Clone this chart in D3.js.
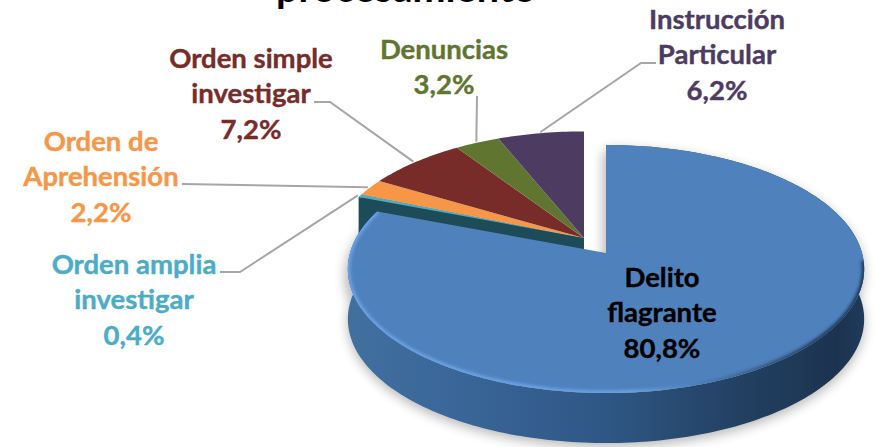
<!DOCTYPE html>
<html>
<head>
<meta charset="utf-8">
<script src="https://cdn.jsdelivr.net/npm/d3@7"></script>
<style>
html, body { margin: 0; padding: 0; background: #fff; overflow: hidden; }
text { font-family: Lato, "Open Sans", sans-serif; font-weight: 700; }
</style>
</head>
<body>
<svg id="chart" width="879" height="447"></svg>
<script>
// chart data
var categories = ["Delito flagrante", "Orden amplia investigar", "Orden de Aprehensión", "Orden simple investigar", "Denuncias", "Instrucción Particular"];
var shares = [80.8, 0.4, 2.2, 7.2, 3.2, 6.2];
var shareLabels = ["80,8%", "0,4%", "2,2%", "7,2%", "3,2%", "6,2%"];
var labelLines = [["Delito", "flagrante"], ["Orden amplia", "investigar"], ["Orden de", "Aprehensión"], ["Orden simple", "investigar"], ["Denuncias"], ["Instrucción", "Particular"]];
var titleText = "procesamiento";

// styles and layout
var sliceColors = ["#4f81bd", "#4bacc6", "#f79646", "#772c2a", "#5f7530", "#4d3b62"];
var labelColors = ["#000000", "#4bacc6", "#f79646", "#772c2a", "#5f7530", "#4d3b62"];
var labelX = [662, 134, 101, 251, 444, 717];
var labelY = [277, 264, 141, 58, 49, 19];
// where each leader line leaves its label (null = no leader)
var leaderElbows = [null, [[240, 272], [220, 272]], [[182, 184]], [[330, 102], [314, 102]], [[477, 96]], [[641, 63], [656, 63]]];

var svg = d3.select("#chart");
var defs = svg.append("defs");

// perspective: circle in the table plane -> screen
var R = 256, S = 122, k = 0.129, depth = 50;
var frontApex = { x: 606, y: 253, scale: 1 }, backApex = { x: 584, y: 238, scale: 0.985 };

function project(apex, angle, r, drop) {
  var u = Math.sin(angle) * r * apex.scale, v = -Math.cos(angle) * r * apex.scale;
  var w = 1 - k * v;
  return [apex.x + R * u / w, apex.y + S * v / w + (drop || 0)];
}
function rim(apex, a0, a1, drop) {
  var n = Math.max(2, Math.ceil((a1 - a0) / 0.02));
  return d3.range(n + 1).map(function(i) {
    return project(apex, a0 + (a1 - a0) * i / n, 1, drop);
  });
}
var line = d3.line();

var pie = d3.pie().sort(null);
var slices = pie(shares);

function wedge(apex, s) {
  return line([[apex.x, apex.y]].concat(rim(apex, s.startAngle, s.endAngle))) + "Z";
}

// filters + gradients
defs.append("filter").attr("id", "soft").attr("x", "-20%").attr("y", "-20%").attr("width", "140%").attr("height", "140%")
  .append("feGaussianBlur").attr("stdDeviation", 6);
defs.append("filter").attr("id", "softRim").attr("x", "-5%").attr("y", "-5%").attr("width", "110%").attr("height", "110%")
  .append("feGaussianBlur").attr("stdDeviation", 1.6);

var wallGrad = defs.append("linearGradient").attr("id", "wallGrad")
  .attr("gradientUnits", "userSpaceOnUse").attr("x1", 349).attr("x2", 863).attr("y1", 0).attr("y2", 0);
[[0, "#41709f"], [0.2, "#3a6699"], [0.5, "#2f5785"], [0.75, "#234163"], [0.95, "#1c3350"], [1, "#1f3a5a"]].forEach(function(d) {
  wallGrad.append("stop").attr("offset", d[0]).attr("stop-color", d[1]);
});
var rimGrad = defs.append("linearGradient").attr("id", "rimGrad")
  .attr("gradientUnits", "userSpaceOnUse").attr("x1", 349).attr("x2", 863).attr("y1", 0).attr("y2", 0);
[[0, "#6ba3e6"], [0.55, "#6ba3e6"], [0.75, "#3f6a9c"], [0.92, "#1f3a5c"], [1, "#1f3a5c"]].forEach(function(d) {
  rimGrad.append("stop").attr("offset", d[0]).attr("stop-color", d[1]);
});
defs.append("clipPath").attr("id", "topClip").append("path").attr("d", wedge(frontApex, slices[0]));

// blue slice wall outline (ribbon top rim -> bottom rim)
var blue = slices[0];
var ribbon = line(rim(frontApex, blue.startAngle, blue.endAngle).concat(rim(frontApex, blue.startAngle, blue.endAngle, depth).reverse())) + "Z";

// soft shadow
var shadow = svg.append("g").attr("filter", "url(#soft)").attr("fill", "#000").attr("opacity", 0.28);
shadow.append("path").attr("d", ribbon).attr("transform", "translate(0,4)");
shadow.append("path").attr("d", wedge(frontApex, blue)).attr("transform", "translate(-3,8)");

// dark cut face of the teal slice, mostly hidden by the blue one
var teal = slices[1];
var tealEdge = project(backApex, teal.endAngle, 1);
svg.append("path")
  .attr("fill", "#1d4c58")
  .attr("d", line([[backApex.x, backApex.y], tealEdge, [tealEdge[0], tealEdge[1] + depth], [backApex.x, backApex.y + depth]]) + "Z");
var tealStart = project(backApex, teal.startAngle, 1);
svg.append("path")
  .attr("fill", "#1d4c58")
  .attr("d", line([[backApex.x, backApex.y], tealStart, [tealStart[0], tealStart[1] + depth], [backApex.x, backApex.y + depth]]) + "Z");

// back slices
svg.append("g").selectAll("path")
  .data(slices.slice(1))
  .enter().append("path")
  .attr("fill", function(d) { return sliceColors[d.index]; })
  .attr("d", function(d) { return wedge(backApex, d); });

// blue slice
svg.append("path").attr("d", ribbon).attr("fill", "url(#wallGrad)");
svg.append("path").attr("d", wedge(frontApex, blue)).attr("fill", sliceColors[0]);
svg.append("g").attr("clip-path", "url(#topClip)")
  .append("path")
  .attr("d", line(rim(frontApex, Math.PI * 0.52, blue.endAngle)))
  .attr("fill", "none")
  .attr("stroke", "url(#rimGrad)")
  .attr("stroke-width", 5)
  .attr("filter", "url(#softRim)");

// leader lines
svg.append("g").selectAll("path")
  .data(slices.filter(function(d) { return leaderElbows[d.index]; }))
  .enter().append("path")
  .attr("fill", "none")
  .attr("stroke", "#a6a6a6")
  .attr("stroke-width", 2)
  .attr("d", function(d) {
    var start = project(backApex, (d.startAngle + d.endAngle) / 2, 1.01);
    return line([start].concat(leaderElbows[d.index]));
  });

// labels
var fontSize = 27.5, lineStep = 35.5;
var labels = svg.append("g").selectAll("text")
  .data(categories)
  .enter().append("text")
  .attr("text-anchor", "middle")
  .attr("font-size", fontSize)
  .attr("stroke-width", 0.4)
  .attr("fill", function(d, i) { return labelColors[i]; })
  .attr("stroke", function(d, i) { return labelColors[i]; });
labels.each(function(d, i) {
  var t = d3.select(this);
  labelLines[i].concat([shareLabels[i]]).forEach(function(str, j) {
    t.append("tspan")
      .attr("x", labelX[i])
      .attr("y", labelY[i] + j * lineStep)
      .attr("dy", "0.35em")
      .text(str);
  });
});

svg.append("text")
  .attr("x", 406).attr("y", 2)
  .attr("text-anchor", "middle")
  .attr("font-size", 39.5)
  .attr("fill", "#000")
  .text(titleText);
</script>
</body>
</html>
